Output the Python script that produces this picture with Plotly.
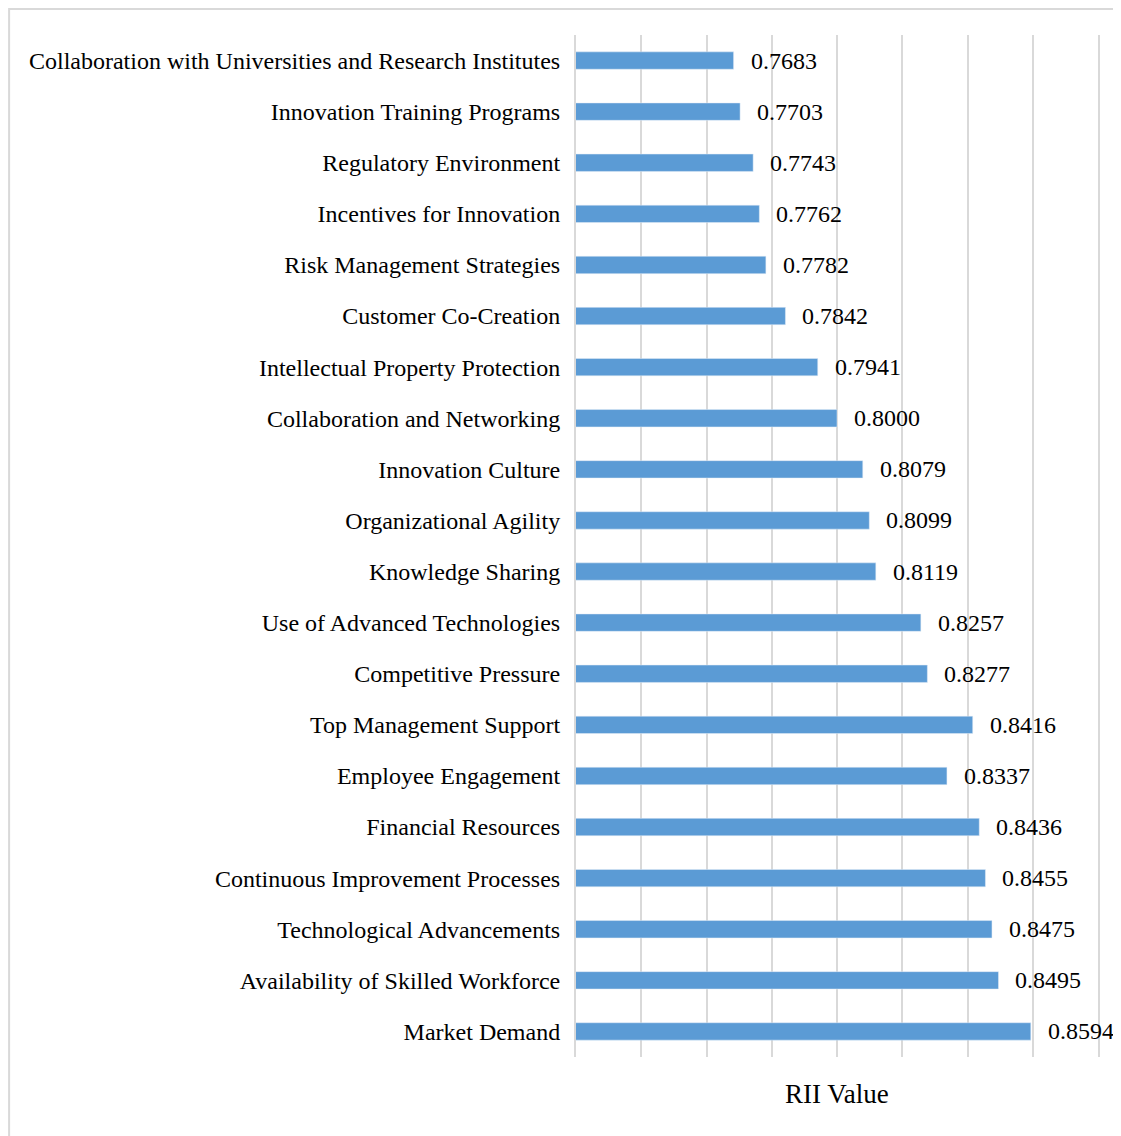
import plotly.graph_objects as go

# factors listed top to bottom as in the chart
factors = [
    "Collaboration with Universities and Research Institutes",
    "Innovation Training Programs",
    "Regulatory Environment",
    "Incentives for Innovation",
    "Risk Management Strategies",
    "Customer Co-Creation",
    "Intellectual Property Protection",
    "Collaboration and Networking",
    "Innovation Culture",
    "Organizational Agility",
    "Knowledge Sharing",
    "Use of Advanced Technologies",
    "Competitive Pressure",
    "Top Management Support",
    "Employee Engagement",
    "Financial Resources",
    "Continuous Improvement Processes",
    "Technological Advancements",
    "Availability of Skilled Workforce",
    "Market Demand",
]
rii = [
    0.7683, 0.7703, 0.7743, 0.7762, 0.7782, 0.7842, 0.7941, 0.8000, 0.8079, 0.8099,
    0.8119, 0.8257, 0.8277, 0.8416, 0.8337, 0.8436, 0.8455, 0.8475, 0.8495, 0.8594,
]

_FONT = "Liberation Serif, Times New Roman, serif"
_BAR = "#5B9BD5"
_GRID = "#D9D9D9"

fig = go.Figure(go.Bar(
    x=rii, y=factors, orientation="h",
    marker_color=_BAR, width=0.34,
    hovertemplate="%{y}: %{x:.4f}<extra></extra>",
))

# value labels sit a little to the right of each bar
for f, v in zip(factors, rii):
    fig.add_annotation(x=v, y=f, text=f"{v:.4f}", showarrow=False,
                       xanchor="left", yanchor="middle", xshift=15,
                       font=dict(family=_FONT, size=24, color="black"))

# light grey frame along the top and left edges of the chart
fig.add_shape(type="rect", xref="paper", yref="paper",
              x0=-1.086, x1=1.2, y0=-0.2, y1=1.0254,
              line=dict(color="#D9D9D9", width=2), layer="below")

fig.add_annotation(text="RII Value", xref="paper", yref="paper",
                   x=0.5, y=-0.0362, showarrow=False,
                   xanchor="center", yanchor="middle",
                   font=dict(family=_FONT, size=27, color="black"))

fig.update_layout(
    width=1113, height=1128,
    paper_bgcolor="white", plot_bgcolor="white",
    font=dict(family=_FONT, size=24, color="black"),
    margin=dict(l=568, r=23, t=27, b=79),
    showlegend=False,
    xaxis=dict(range=[0.72, 0.88], dtick=0.02, tick0=0.72,
               showgrid=True, gridcolor=_GRID, gridwidth=2,
               showticklabels=False, zeroline=False, showline=False),
    # y-axis line (mirrored) stands in for the 0.72 and 0.88 gridlines
    yaxis=dict(type="category", range=[19.5, -0.5],
               showgrid=False, showline=True, mirror=True,
               linecolor=_GRID, linewidth=2, ticks="",
               ticklabelstandoff=9,
               tickfont=dict(family=_FONT, size=24, color="black")),
)

fig.write_html("out.html")
